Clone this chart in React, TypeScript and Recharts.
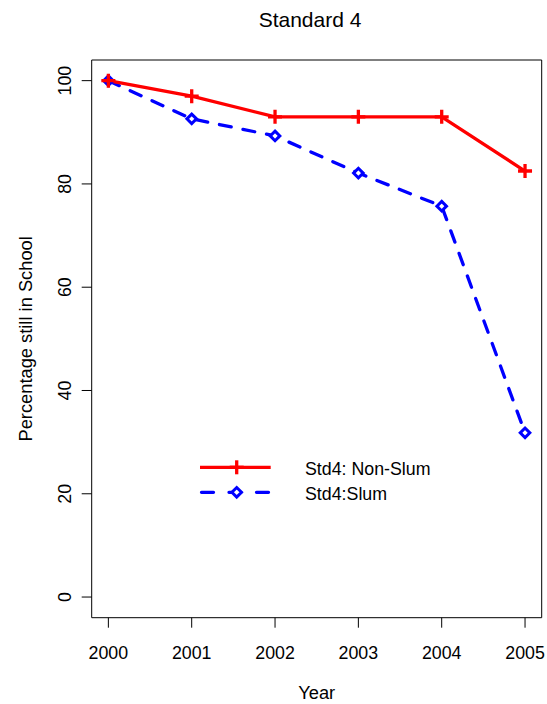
import React from 'react';
import { LineChart, Line, XAxis, YAxis, ReferenceArea, Legend } from 'recharts';

const years = [2000, 2001, 2002, 2003, 2004, 2005];
const nonSlum = [100, 97, 93, 93, 93, 82.5];
const slum = [100, 92.6, 89.3, 82.1, 75.7, 31.8];
const yTicks = [0, 20, 40, 60, 80, 100];
const seriesNames = ['Std4: Non-Slum', 'Std4:Slum'];
const titleText = 'Standard 4';
const xTitle = 'Year';
const yTitle = 'Percentage still in School';

const data = years.map((y, i) => ({ year: y, nonSlum: nonSlum[i], slum: slum[i] }));

const FONT = '"Liberation Sans", Arial, Helvetica, sans-serif';
const FS = 17.8;
const RED = '#ff0000';
const BLUE = '#0000ff';

const PlusDot = (props: any) => {
  const { cx, cy, index } = props;
  if (cx == null || cy == null) return <g key={`p${index}`} />;
  const s = 7;
  return (
    <g key={`p${index}`}>
      <line x1={cx - s} y1={cy} x2={cx + s} y2={cy} stroke={RED} strokeWidth={3.3} />
      <line x1={cx} y1={cy - s} x2={cx} y2={cy + s} stroke={RED} strokeWidth={3.3} />
    </g>
  );
};

const DiamondDot = (props: any) => {
  const { cx, cy, index } = props;
  if (cx == null || cy == null) return <g key={`d${index}`} />;
  const s = 4.8;
  return (
    <path
      key={`d${index}`}
      d={`M${cx},${cy - s}L${cx + s},${cy}L${cx},${cy + s}L${cx - s},${cy}Z`}
      fill="#fff"
      stroke={BLUE}
      strokeWidth={3}
    />
  );
};

const XTick = (props: any) => {
  const { x, y, payload } = props;
  return (
    <text x={x} y={y} dy="0.71em" textAnchor="middle" fontFamily={FONT} fontSize={FS} fill="#000">
      {payload.value}
    </text>
  );
};

const YTick = (props: any) => {
  const { x, y, payload } = props;
  return (
    <text
      x={x}
      y={y}
      dy="0.36em"
      textAnchor="middle"
      transform={`rotate(-90, ${x}, ${y})`}
      fontFamily={FONT}
      fontSize={FS}
      fill="#000"
    >
      {payload.value}
    </text>
  );
};

const YLabel = (props: any) => {
  const vb = props.viewBox || { x: 0, y: 60, width: 91.7, height: 557.7 };
  const x = vb.x + 32;
  const y = vb.y + vb.height / 2;
  return (
    <text x={x} y={y} textAnchor="middle" transform={`rotate(-90, ${x}, ${y})`} fontFamily={FONT} fontSize={18.3} fill="#000">
      {yTitle}
    </text>
  );
};

const XLabel = (props: any) => {
  const vb = props.viewBox || { x: 91.7, y: 617.7, width: 450, height: 86.3 };
  const x = vb.x + vb.width / 2;
  const y = vb.y + 81.5;
  return (
    <text x={x} y={y} textAnchor="middle" fontFamily={FONT} fontSize={18.3} fill="#000">
      {xTitle}
    </text>
  );
};

const renderLegend = () => (
  <svg width={260} height={56} style={{ display: 'block', overflow: 'visible' }}>
    <line x1={5} y1={15.3} x2={75.7} y2={15.3} stroke={RED} strokeWidth={3.3} />
    <line x1={41.7 - 7} y1={15.3} x2={41.7 + 7} y2={15.3} stroke={RED} strokeWidth={3.3} />
    <line x1={41.7} y1={15.3 - 7} x2={41.7} y2={15.3 + 7} stroke={RED} strokeWidth={3.3} />
    <line
      x1={6.5}
      y1={40.3}
      x2={73.5}
      y2={40.3}
      stroke={BLUE}
      strokeWidth={3.3}
      strokeDasharray="12 15.5"
      strokeLinecap="round"
    />
    <path
      d={`M41.7,${40.3 - 4.8}L${41.7 + 4.8},40.3L41.7,${40.3 + 4.8}L${41.7 - 4.8},40.3Z`}
      fill="#fff"
      stroke={BLUE}
      strokeWidth={3}
    />
    <text x={110} y={23} fontFamily={FONT} fontSize={FS} fill="#000">
      {seriesNames[0]}
    </text>
    <text x={110} y={48} fontFamily={FONT} fontSize={FS} fill="#000">
      {seriesNames[1]}
    </text>
  </svg>
);

export default function App() {
  return (
    <div style={{ position: 'absolute', left: 0, top: 0, width: 547, height: 704, background: '#fff' }}>
      <div
        style={{
          position: 'absolute',
          left: 160,
          top: 8,
          width: 300,
          textAlign: 'center',
          fontFamily: FONT,
          fontSize: 21,
          lineHeight: '24px',
          color: '#000',
        }}
      >
        {titleText}
      </div>
      <LineChart width={547} height={704} data={data} margin={{ top: 60, right: 5.3, left: 0, bottom: 0 }}>
        <XAxis
          dataKey="year"
          type="number"
          domain={[1999.8, 2005.2]}
          allowDataOverflow
          ticks={years}
          interval={0}
          axisLine={false}
          tickLine={{ stroke: '#000', strokeWidth: 1 }}
          tickSize={10}
          tickMargin={18.3}
          tick={<XTick />}
          height={86.3}
          label={<XLabel />}
        />
        <YAxis
          type="number"
          domain={[-4, 104]}
          allowDataOverflow
          ticks={yTicks}
          interval={0}
          axisLine={false}
          tickLine={{ stroke: '#000', strokeWidth: 1 }}
          tickSize={10}
          tickMargin={16.7}
          tick={<YTick />}
          width={91.7}
          label={<YLabel />}
        />
        <ReferenceArea
          x1={1999.8}
          x2={2005.2}
          y1={-4}
          y2={104}
          fill="none"
          fillOpacity={0}
          stroke="#000"
          strokeWidth={1}
          ifOverflow="visible"
        />
        <Line
          type="linear"
          dataKey="slum"
          stroke={BLUE}
          strokeWidth={3.3}
          strokeDasharray="12 12"
          strokeLinecap="round"
          dot={(p: any) => <DiamondDot {...p} />}
          isAnimationActive={false}
        />
        <Line
          type="linear"
          dataKey="nonSlum"
          stroke={RED}
          strokeWidth={3.3}
          strokeLinecap="round"
          dot={(p: any) => <PlusDot {...p} />}
          isAnimationActive={false}
        />
        <Legend
          layout="horizontal"
          verticalAlign="middle"
          align="center"
          content={renderLegend}
          wrapperStyle={{ position: 'absolute', left: 195, top: 452, width: 260, height: 56 }}
        />
      </LineChart>
    </div>
  );
}
